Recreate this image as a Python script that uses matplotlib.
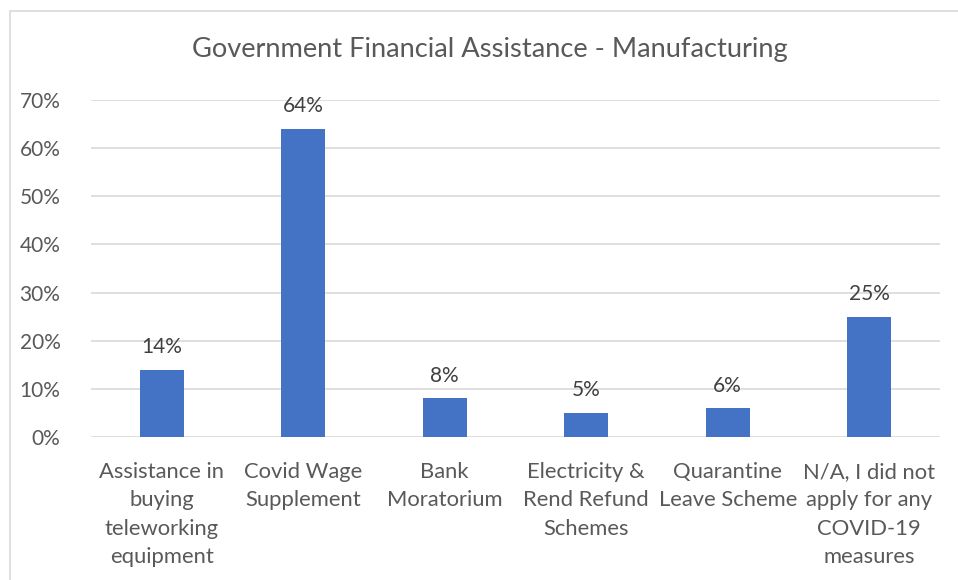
import matplotlib
matplotlib.use("Agg")
import matplotlib.pyplot as plt
from matplotlib.patches import Rectangle

plt.rcParams['font.family'] = ['Lato', 'DejaVu Sans']

categories = [
    "Assistance in\nbuying\nteleworking\nequipment",
    "Covid Wage\nSupplement",
    "Bank\nMoratorium",
    "Electricity &\nRend Refund\nSchemes",
    "Quarantine\nLeave Scheme",
    "N/A, I did not\napply for any\nCOVID-19\nmeasures",
]
shares = [14, 64, 8, 5, 6, 25]
yticks = [0, 10, 20, 30, 40, 50, 60, 70]

text_col = "#595959"
grid_col = "#d9d9d9"
bar_col = "#4472c4"

fig = plt.figure(figsize=(9.58, 5.8), dpi=100)
ax = fig.add_axes([91/958, 1-437/580, 849/958, 337/580])

# chart frame (only top and left edges fall inside the image)
fig.patches.append(Rectangle((10/958, -0.05), 1.1, 1-11/580+0.05,
                             transform=fig.transFigure, fill=False,
                             edgecolor="#d9d9d9", linewidth=1.2))

x = list(range(len(shares)))
bars = ax.bar(x, shares, width=0.31, color=bar_col, zorder=3)
for xi, v in zip(x, shares):
    ax.text(xi, v + 2.6, f"{v}%", ha="center", va="bottom",
            fontsize=15, color="#404040")

ax.set_xlim(-0.5, len(shares) - 0.5)
ax.set_ylim(0, 70)
ax.set_yticks(yticks)
ax.set_yticklabels([f"{t}%" for t in yticks], fontsize=15, color=text_col)
ax.set_xticks(x)
ax.set_xticklabels(categories, fontsize=15.8, color=text_col, linespacing=1.53,
                   va="top")
ax.tick_params(axis="both", length=0)
ax.tick_params(axis="y", pad=22)
ax.tick_params(axis="x", pad=18)
ax.grid(axis="y", color=grid_col, linewidth=1.2, zorder=0)
for s in ax.spines.values():
    s.set_visible(False)

fig.text(490/958, 1-50/580, "Government Financial Assistance - Manufacturing",
         ha="center", va="center", fontsize=19.6, color=text_col)

fig.savefig("out.png", dpi=100)
